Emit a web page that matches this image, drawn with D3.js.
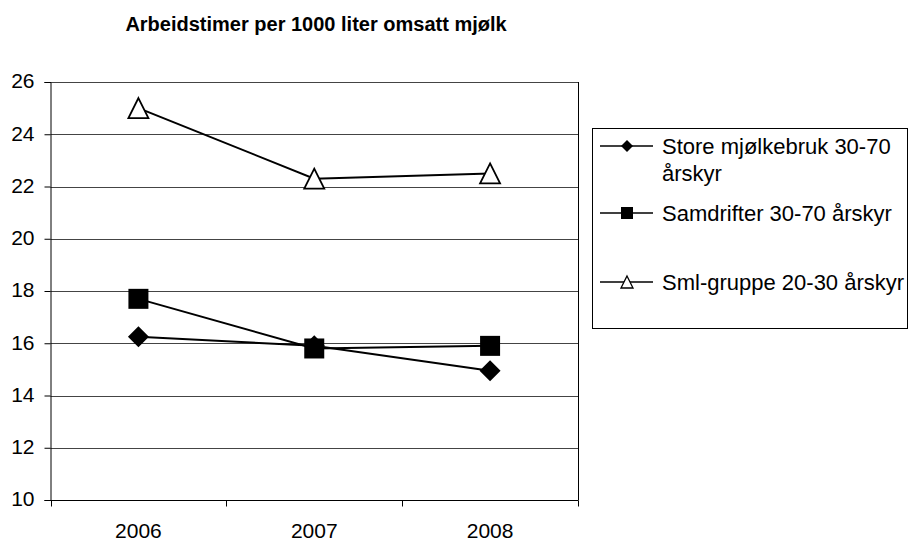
<!DOCTYPE html>
<html>
<head>
<meta charset="UTF-8">
<script src="https://d3js.org/d3.v7.min.js"></script>
<style>
  body { margin:0; background:#fff; }
  text { font-family: "Liberation Sans", Arial, sans-serif; fill:#000; }
</style>
</head>
<body>
<div id="chart"></div>
<script>
// data
var years = ["2006", "2007", "2008"];
var store = [16.25, 15.9, 14.95];
var samdrifter = [17.7, 15.8, 15.9];
var smlGruppe = [25.0, 22.3, 22.5];
var seriesNames = ["Store mjølkebruk 30-70 årskyr", "Samdrifter 30-70 årskyr", "Sml-gruppe 20-30 årskyr"];
var yTicks = [10, 12, 14, 16, 18, 20, 22, 24, 26];

var W = 909, H = 543;
var plot = {left: 50.5, right: 578, top: 82, bottom: 500};

var svg = d3.select("#chart").append("svg").attr("width", W).attr("height", H);

var x = d3.scaleBand().domain(years).range([plot.left, plot.right]);
var y = d3.scaleLinear().domain([10, 26]).range([plot.bottom, plot.top]);

// gridlines
svg.append("g").selectAll("line").data(yTicks.slice(1)).enter().append("line")
  .attr("x1", plot.left).attr("x2", plot.right)
  .attr("y1", function(d){ return Math.round(y(d)) + 0.5; })
  .attr("y2", function(d){ return Math.round(y(d)) + 0.5; })
  .attr("stroke", "#444").attr("stroke-width", 1);

// right border of plot area
svg.append("line").attr("x1", plot.right + 0.5).attr("x2", plot.right + 0.5)
  .attr("y1", y(26)).attr("y2", plot.bottom).attr("stroke", "#000");

// y axis
var yAxis = d3.axisLeft(y).tickValues(yTicks).tickSize(6).tickPadding(10);
var gy = svg.append("g").attr("transform", "translate(" + plot.left + ",0)").call(yAxis);
gy.select(".domain").attr("stroke", "#000");
gy.selectAll("text").style("font-size", "21px").attr("dy", "0.28em").attr("font-family", null);

// x axis
var xAxis = d3.axisBottom(x).tickSize(0).tickPadding(23);
var gx = svg.append("g").attr("transform", "translate(0," + (Math.round(plot.bottom) + 0.5) + ")").call(xAxis);
gx.select(".domain").remove();
gx.selectAll("text").style("font-size", "21px").attr("font-family", null);
gx.append("line").attr("x1", plot.left).attr("x2", plot.right + 0.5).attr("stroke", "#000");
// category boundary ticks
var bounds = years.map(function(d){ return x(d); }).concat([x.range()[1]]);
gx.selectAll("line.bt").data(bounds).enter().append("line").attr("class", "bt")
  .attr("x1", function(d){ return Math.round(d) + 0.5; })
  .attr("x2", function(d){ return Math.round(d) + 0.5; })
  .attr("y1", 0).attr("y2", 6).attr("stroke", "#000");

// title
svg.append("text").attr("x", 316).attr("y", 31).attr("text-anchor", "middle")
  .style("font-size", "20px").style("font-weight", "bold")
  .text("Arbeidstimer per 1000 liter omsatt mjølk");

var cx = function(i){ return x(years[i]) + x.bandwidth() / 2; };
var line = d3.line().x(function(d, i){ return cx(i); }).y(function(d){ return y(d); });

var series = [
  {name: seriesNames[0], values: store, marker: "diamond"},
  {name: seriesNames[1], values: samdrifter, marker: "square"},
  {name: seriesNames[2], values: smlGruppe, marker: "triangle"}
];

function drawMarker(g, type, px, py, s, sw) {
  if (type === "diamond") {
    g.append("path").attr("d", "M" + px + "," + (py - s/2) + "L" + (px + s/2) + "," + py + "L" + px + "," + (py + s/2) + "L" + (px - s/2) + "," + py + "Z")
      .attr("fill", "#000");
  } else if (type === "square") {
    g.append("rect").attr("x", px - s/2).attr("y", py - s/2).attr("width", s).attr("height", s).attr("fill", "#000");
  } else {
    g.append("path").attr("d", "M" + px + "," + (py - s/2) + "L" + (px + s/2) + "," + (py + s/2) + "L" + (px - s/2) + "," + (py + s/2) + "Z")
      .attr("fill", "#fff").attr("stroke", "#000").attr("stroke-width", sw || 1.8);
  }
}

series.forEach(function(s) {
  svg.append("path").datum(s.values).attr("d", line)
    .attr("fill", "none").attr("stroke", "#000").attr("stroke-width", 2);
});
series.forEach(function(s) {
  var g = svg.append("g");
  s.values.forEach(function(v, i) {
    var size = s.marker === "diamond" ? 21 : 20;
    drawMarker(g, s.marker, cx(i), y(v), size);
  });
});

// legend
var lg = svg.append("g");
lg.append("rect").attr("x", 592.5).attr("y", 128.5).attr("width", 315).attr("height", 200)
  .attr("fill", "#fff").attr("stroke", "#000");
var legendRows = [
  {y: 146, lines: ["Store mjølkebruk 30-70", "årskyr"]},
  {y: 213, lines: ["Samdrifter 30-70 årskyr"]},
  {y: 282, lines: ["Sml-gruppe 20-30 årskyr"]}
];
series.forEach(function(s, i) {
  var r = legendRows[i];
  lg.append("line").attr("x1", 600).attr("x2", 653).attr("y1", r.y).attr("y2", r.y)
    .attr("stroke", "#000").attr("stroke-width", 1.5);
  drawMarker(lg, s.marker, 627, r.y, 12, 1.3);
  r.lines.forEach(function(t, j) {
    lg.append("text").attr("x", 662).attr("y", r.y + 8 + j * 27)
      .style("font-size", "22px").text(t);
  });
});
</script>
</body>
</html>
